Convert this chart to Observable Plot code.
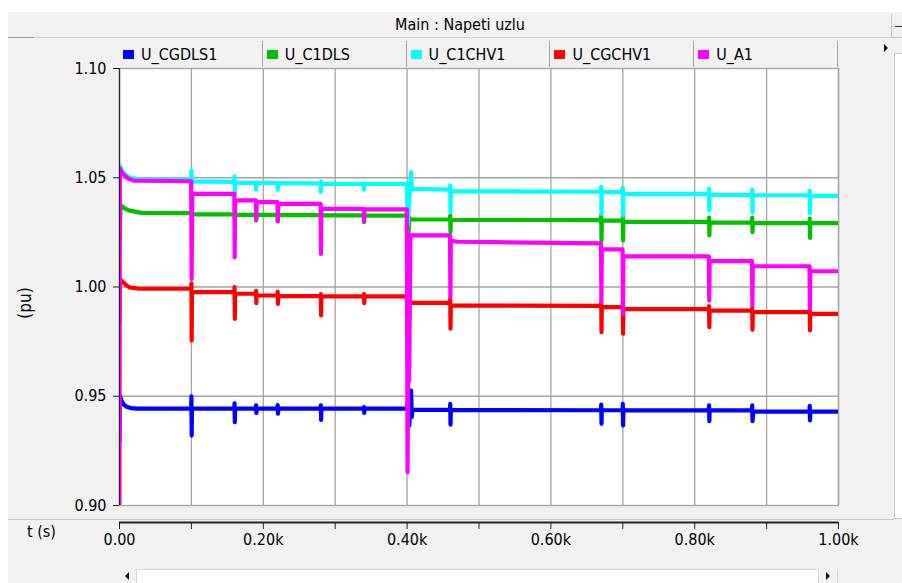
<!DOCTYPE html>
<html>
<head>
<meta charset="utf-8">
<script src="https://cdn.jsdelivr.net/npm/d3@7"></script>
<script src="https://cdn.jsdelivr.net/npm/@observablehq/plot@0.6"></script>
<style>
  html, body { margin: 0; padding: 0; }
  body {
    width: 902px; height: 583px; overflow: hidden; position: relative; background: #ffffff;
    font-family: "DejaVu Sans Condensed", "DejaVu Sans", sans-serif; font-stretch: condensed;
    color: #000;
  }
  .abs { position: absolute; }
  #frame { left: 8px; top: 12px; width: 900px; height: 571px; background: #f1f1f1; }
  #titleline { left: 8px; top: 37px; width: 884px; height: 1px; background: #d2d2d2; }
  #titleline2 { left: 8px; top: 37px; width: 26px; height: 1px; background: #9c9c9c; }
  #title { left: 8px; top: 15px; width: 904px; text-align: center; font-size: 16px; line-height: 20px; }
  #legend { left: 119px; top: 41px; width: 719px; height: 26px; display: flex; }
  .cell { flex: 1; box-sizing: border-box; border-right: 1px solid #a6a29e; display: flex; align-items: center; padding-left: 4px; font-size: 16px; }
  .sw { width: 11px; height: 9px; margin-right: 7px; }
  #panelline { left: 8px; top: 519px; width: 886px; height: 1px; background: #c9c9c9; }
  #tlabel { left: 27px; top: 524px; font-size: 16px; line-height: 16px; }
  #ylabel { left: 4px; top: 293px; width: 42px; height: 20px; line-height: 20px; text-align: center; font-size: 17px; transform: rotate(-90deg); }
  #hscroll { left: 119px; top: 569px; width: 719px; height: 14px; background: #ffffff; border-top: 1px solid #d6d6d6; box-sizing: border-box; }
  #hsl { left: 119px; top: 569px; width: 18px; height: 14px; background: #f1f1f1; border-right: 1px solid #d6d6d6; box-sizing: border-box; }
  #hsr { left: 818px; top: 569px; width: 20px; height: 14px; background: #f1f1f1; border-left: 1px solid #d6d6d6; border-right: 1px solid #d6d6d6; box-sizing: border-box; }
  .triL { width: 0; height: 0; border-top: 4px solid transparent; border-bottom: 4px solid transparent; border-right: 4px solid #111; }
  .triR { width: 0; height: 0; border-top: 4px solid transparent; border-bottom: 4px solid transparent; border-left: 4px solid #111; }
  #vstrip { left: 894px; top: 53px; width: 10px; height: 466px; background: #ffffff; border: 1px solid #c6c6c6; box-sizing: border-box; }
  #vtop { left: 891px; top: 14px; width: 12px; height: 24px; border-left: 1px solid #c6c6c6; border-bottom: 1px solid #c6c6c6; box-sizing: border-box; }
  #vdash { left: 895px; top: 26px; width: 7px; height: 1px; background: #333; }
  svg.chart { position: absolute; left: 0; top: 0; }
</style>
</head>
<body>
<div id="frame" class="abs"></div>
<div id="titleline" class="abs"></div>
<div id="titleline2" class="abs"></div>
<div id="title" class="abs">Main : Napeti uzlu</div>
<div id="vtop" class="abs"></div>
<div id="vdash" class="abs"></div>
<div id="vstrip" class="abs"></div>
<div class="abs triR" style="left:884px;top:44px;"></div>
<div id="legend" class="abs"></div>
<div id="panelline" class="abs"></div>
<div id="tlabel" class="abs">t (s)</div>
<div id="ylabel" class="abs">(pu)</div>
<div id="hscroll" class="abs"></div>
<div id="hsl" class="abs"></div>
<div id="hsr" class="abs"></div>
<div class="abs triL" style="left:125px;top:572px;"></div>
<div class="abs triR" style="left:826px;top:572px;"></div>
<script>
// ---------- data ----------
const seriesNames  = ["U_CGDLS1", "U_C1DLS", "U_C1CHV1", "U_CGCHV1", "U_A1"];
const seriesColors = ["#0000ff", "#00c000", "#00ffff", "#ff0000", "#ff00ff"];

const xTicks = [0, 100, 200, 300, 400, 500, 600, 700, 800, 900, 1000];
const xTickLabels = ["0.00", "", "0.20k", "", "0.40k", "", "0.60k", "", "0.80k", "", "1.00k"];
const yTicks = [0.90, 0.95, 1.00, 1.05, 1.10];
const yTickLabels = ["0.90", "0.95", "1.00", "1.05", "1.10"];
const yGrid = [0.95, 1.00, 1.05];

// [t (s), U (pu)]
const U_CGDLS1 = [
  [0, 0.929], [0.5, 0.9503], [3, 0.9478], [6, 0.9462], [10, 0.9452], [16, 0.9446], [25, 0.9443],
  [99.7, 0.9443], [100, 0.9499], [100.4, 0.932], [100.8, 0.9443],
  [159.7, 0.9443], [160, 0.9468], [160.4, 0.9381], [160.8, 0.9443],
  [189.7, 0.9443], [190, 0.9458], [190.4, 0.9424], [190.8, 0.9443],
  [219.7, 0.9443], [220, 0.9460], [220.4, 0.9420], [220.8, 0.9443],
  [279.7, 0.9443], [280, 0.9458], [280.4, 0.9392], [280.8, 0.9443],
  [339.7, 0.9443], [340, 0.9450], [340.4, 0.9424], [340.8, 0.9443],
  [399.7, 0.9443], [401, 0.9470], [403, 0.9366], [405.5, 0.9526], [406.5, 0.9405], [407.5, 0.9438],
  [459.7, 0.9438], [460, 0.9465], [460.4, 0.9370], [460.8, 0.9437],
  [669.7, 0.9436], [670, 0.9462], [670.4, 0.9374], [670.8, 0.9436],
  [699.7, 0.9436], [700, 0.9465], [700.4, 0.9366], [700.8, 0.9435],
  [819.7, 0.9435], [820, 0.9458], [820.4, 0.9386], [820.8, 0.9435],
  [879.7, 0.9435], [880, 0.9458], [880.4, 0.9386], [881.5, 0.9430],
  [959.7, 0.9430], [960, 0.9456], [960.4, 0.9389], [960.8, 0.9430],
  [1000, 0.9430]
];
const U_C1DLS = [
  [0, 1.0167], [1.5, 1.0375], [6, 1.0362], [12, 1.0352], [20, 1.0346], [30, 1.0339],
  [99.7, 1.0338], [100, 1.0340], [100.5, 1.0326], [101.5, 1.0332],
  [159.7, 1.0332], [160, 1.0338], [160.4, 1.0304], [160.8, 1.0330],
  [189.7, 1.0330], [190, 1.0304], [190.8, 1.0330],
  [219.7, 1.0330], [220, 1.0300], [220.8, 1.0329],
  [279.7, 1.0329], [280, 1.0312], [280.8, 1.0328],
  [339.7, 1.0328], [340, 1.0297], [340.8, 1.0327],
  [399.7, 1.0327], [401, 1.0175], [403, 1.0320], [405, 1.0309],
  [459.7, 1.0309], [460, 1.0327], [460.4, 1.0251], [460.8, 1.0307],
  [669.7, 1.0306], [670, 1.0327], [670.4, 1.0213], [670.8, 1.0304],
  [699.7, 1.0304], [700, 1.0324], [700.4, 1.0213], [700.8, 1.0298],
  [819.7, 1.0298], [820, 1.0318], [820.4, 1.0236], [820.8, 1.0295],
  [879.7, 1.0295], [880, 1.0318], [880.4, 1.0251], [880.8, 1.0292],
  [959.7, 1.0292], [960, 1.0313], [960.4, 1.0225], [960.8, 1.0292],
  [1000, 1.0292]
];
const U_C1CHV1 = [
  [0, 1.040], [0.5, 1.0556], [3, 1.0535], [8, 1.0515], [15, 1.0500], [25, 1.0493],
  [99.7, 1.0491], [100, 1.0533], [100.5, 1.0475], [101, 1.0483],
  [159.7, 1.0481], [160, 1.0506], [160.4, 1.0426], [160.8, 1.0477],
  [189.7, 1.0477], [190, 1.0445], [190.8, 1.0477],
  [219.7, 1.0476], [220, 1.0445], [220.8, 1.0475],
  [279.7, 1.0474], [280, 1.0434], [280.4, 1.0483], [280.8, 1.0472],
  [339.7, 1.0472], [340, 1.0445], [340.8, 1.0472],
  [399.7, 1.0472], [401, 1.0281], [403, 1.0400], [405.5, 1.0526], [406.5, 1.0449],
  [459.7, 1.0446], [460, 1.0465], [460.4, 1.0342], [460.8, 1.0438],
  [669.7, 1.0436], [670, 1.0460], [670.4, 1.0335], [670.8, 1.0434],
  [699.7, 1.0434], [700, 1.0455], [700.4, 1.0327], [700.8, 1.0426],
  [819.7, 1.0425], [820, 1.0449], [820.4, 1.0350], [820.8, 1.0422],
  [879.7, 1.0422], [880, 1.0445], [880.4, 1.0342], [880.8, 1.0420],
  [959.7, 1.0420], [960, 1.0440], [960.4, 1.0338], [960.8, 1.0417],
  [1000, 1.0417]
];
const U_CGCHV1 = [
  [0, 0.9832], [0.5, 1.0037], [4, 1.0025], [8, 1.0012], [14, 0.9998], [25, 0.9993],
  [99.7, 0.9992], [100, 1.0015], [100.4, 0.9755], [100.8, 0.9977],
  [159.7, 0.9977], [160, 0.9999], [160.4, 0.9854], [160.8, 0.9969],
  [189.7, 0.9969], [190, 0.9982], [190.4, 0.9926], [190.8, 0.9961],
  [219.7, 0.9961], [220, 0.9978], [220.4, 0.9923], [220.8, 0.9958],
  [279.7, 0.9958], [280, 0.9967], [280.4, 0.9870], [280.8, 0.9957],
  [339.7, 0.9957], [340, 0.9967], [340.4, 0.9926], [340.8, 0.9957],
  [399.7, 0.9957], [401.5, 0.9660], [403, 0.9950], [405, 0.9927],
  [459.7, 0.9927], [460, 0.9946], [460.4, 0.9809], [460.8, 0.9915],
  [669.7, 0.9914], [670, 0.9930], [670.4, 0.9793], [670.8, 0.9908],
  [699.7, 0.9908], [700, 0.9926], [700.4, 0.9786], [700.8, 0.9899],
  [819.7, 0.9899], [820, 0.9912], [820.4, 0.9816], [820.8, 0.9892],
  [879.7, 0.9892], [880, 0.9906], [880.4, 0.9804], [880.8, 0.9885],
  [959.7, 0.9885], [960, 0.9899], [960.4, 0.9801], [960.8, 0.9877],
  [1000, 0.9877]
];
const U_A1 = [
  [0, 0.900], [0.5, 1.0542], [3, 1.0525], [7, 1.0510], [12, 1.0496], [20, 1.0487],
  [99.7, 1.0484], [100.3, 1.0037], [101.2, 1.0426],
  [159.7, 1.0426], [160.2, 1.0136], [160.8, 1.0396],
  [189.7, 1.0396], [190.2, 1.0309], [190.8, 1.0388],
  [219.7, 1.0388], [220.2, 1.0301], [220.8, 1.0380],
  [279.7, 1.0380], [280.2, 1.0152], [280.8, 1.0358],
  [339.7, 1.0358], [340.2, 1.0300], [340.8, 1.0355],
  [399.7, 1.0355], [400.6, 0.9152], [401.8, 0.9720], [402.8, 0.9570], [404.6, 1.0236],
  [459.7, 1.0236], [460.2, 0.9953], [460.8, 1.0212], [470, 1.0207], [520, 1.0205],
  [669.7, 1.0200], [670.2, 0.9930], [670.8, 1.0172],
  [699.7, 1.0172], [700.2, 0.9877], [700.8, 1.0140],
  [819.7, 1.0140], [820.2, 0.9938], [820.8, 1.0118],
  [879.7, 1.0118], [880.2, 0.9915], [880.8, 1.0095],
  [959.7, 1.0095], [960.2, 0.9900], [960.8, 1.0072],
  [1000, 1.0072]
];

const seriesData = [U_CGDLS1, U_C1DLS, U_C1CHV1, U_CGCHV1, U_A1];

// ---------- legend (HTML) ----------
const legend = document.getElementById("legend");
seriesNames.forEach((n, i) => {
  const c = document.createElement("div");
  c.className = "cell";
  const s = document.createElement("span");
  s.className = "sw";
  s.style.background = seriesColors[i];
  const t = document.createElement("span");
  t.textContent = n;
  c.appendChild(s); c.appendChild(t);
  legend.appendChild(c);
});

// ---------- chart ----------
const rows = seriesData.flatMap((pts, i) => pts.map(([t, v]) => ({t, v, name: seriesNames[i]})));
const gridColor = "#a6a29e";
const fmtX = d => xTickLabels[xTicks.indexOf(d)];
const fmtY = d => yTickLabels[yTicks.findIndex(y => Math.abs(y - d) < 1e-9)];

const chart = Plot.plot({
  width: 902,
  height: 583,
  marginLeft: 119,
  marginRight: 64,
  marginTop: 68,
  marginBottom: 78,
  x: {domain: [0, 1000]},
  y: {domain: [0.9, 1.1]},
  color: {domain: seriesNames, range: seriesColors},
  style: {
    background: "transparent",
    fontFamily: "'DejaVu Sans Condensed', 'DejaVu Sans', sans-serif",
    fontStretch: "condensed",
    fontSize: "16px",
    color: "#000",
    overflow: "visible"
  },
  marks: [
    Plot.frame({fill: "white", stroke: null}),
    Plot.gridX({ticks: xTicks, stroke: gridColor, strokeOpacity: 1, strokeWidth: 1.3}),
    Plot.gridY({ticks: yGrid, stroke: gridColor, strokeOpacity: 1, strokeWidth: 1.3}),
    Plot.frame({stroke: gridColor, strokeWidth: 1.3}),
    Plot.line(rows, {x: "t", y: "v", z: "name", stroke: "name", strokeWidth: 4.2,
      strokeLinejoin: "round", strokeLinecap: "butt", clip: true}),
    Plot.ruleX([0], {stroke: "#3a1a3a", strokeWidth: 1.2}),
    Plot.axisY({ticks: yTicks, tickFormat: fmtY, tickSize: 6, tickPadding: 7, label: null, stroke: "#222"}),
    Plot.ruleY([0.9], {dy: 17, stroke: "#222", strokeWidth: 2}),
    Plot.axisX({ticks: xTicks, tickFormat: fmtX, anchor: "bottom", dy: 17, tickSize: 7, tickPadding: 4, label: null, stroke: "#222"})
  ]
});
chart.classList.add("chart");
document.body.appendChild(chart);
</script>
</body>
</html>
